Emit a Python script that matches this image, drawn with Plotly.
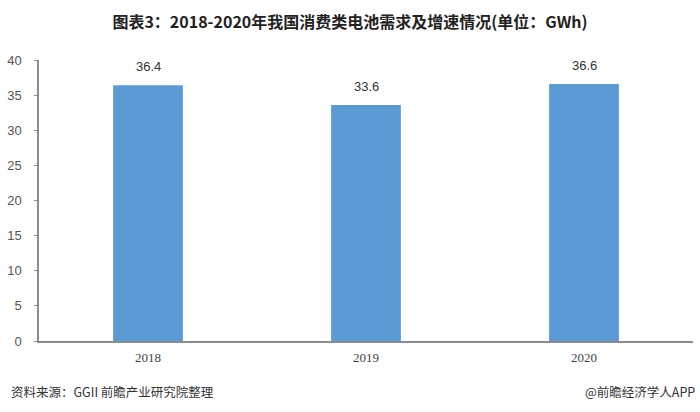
import plotly.graph_objects as go

years = ["2018", "2019", "2020"]
demand = [36.4, 33.6, 36.6]
y_ticks = [0, 5, 10, 15, 20, 25, 30, 35, 40]

title_text = "图表3：2018-2020年我国消费类电池需求及增速情况(单位：GWh)"
source_text = "资料来源：GGII 前瞻产业研究院整理"
brand_text = "@前瞻经济学人APP"

fig = go.Figure()
fig.add_trace(go.Bar(
    x=years, y=demand,
    marker=dict(color="#5B9BD5", line=dict(width=0)),
    width=0.32,
    hoverinfo="skip",
))

for i, v in enumerate(demand):
    fig.add_annotation(x=i, y=v, xref="x", yref="y", text=f"{v:.1f}", showarrow=False,
                       yanchor="bottom", yshift=9,
                       font=dict(family="Liberation Sans, Arial", size=13, color="#333333"))

fig.update_layout(
    width=700, height=412,
    margin=dict(l=35, r=7, t=60, b=71),
    paper_bgcolor="white", plot_bgcolor="white",
    showlegend=False,
    title=dict(text="<b>" + title_text + "</b>", x=0.5, xanchor="center", y=0.945, yanchor="middle",
               font=dict(family="Noto Sans CJK SC", size=16, color="#222222")),
    xaxis=dict(
        type="category", range=[-0.5, len(years) - 0.5],
        showline=True, linecolor="#8c8c8c", linewidth=1.5,
        ticks="", showgrid=False, ticklabelstandoff=4,
        tickfont=dict(family="Liberation Serif, DejaVu Serif", size=13, color="#444444"),
    ),
    yaxis=dict(
        range=[0, 40], tickvals=y_ticks,
        showline=True, linecolor="#8c8c8c", linewidth=1.5,
        ticks="outside", ticklen=3, tickcolor="#8c8c8c",
        showgrid=False, zeroline=False, ticklabelstandoff=10,
        tickfont=dict(family="Liberation Sans, Arial", size=13, color="#555555"),
    ),
    bargap=0.68,
)

fig.add_annotation(text=source_text, xref="paper", yref="paper", x=-30/658, y=-0.18,
                   xanchor="left", yanchor="middle", showarrow=False,
                   font=dict(family="Noto Sans CJK SC", size=12.5, color="#333333"))
fig.add_annotation(text=brand_text, xref="paper", yref="paper", x=1 + 4/658, y=-0.18,
                   xanchor="right", yanchor="middle", showarrow=False,
                   font=dict(family="Noto Sans CJK SC", size=12.5, color="#333333"))

fig.write_html("out.html", config={"displayModeBar": False},
               post_script="document.body.style.margin='0px';")
